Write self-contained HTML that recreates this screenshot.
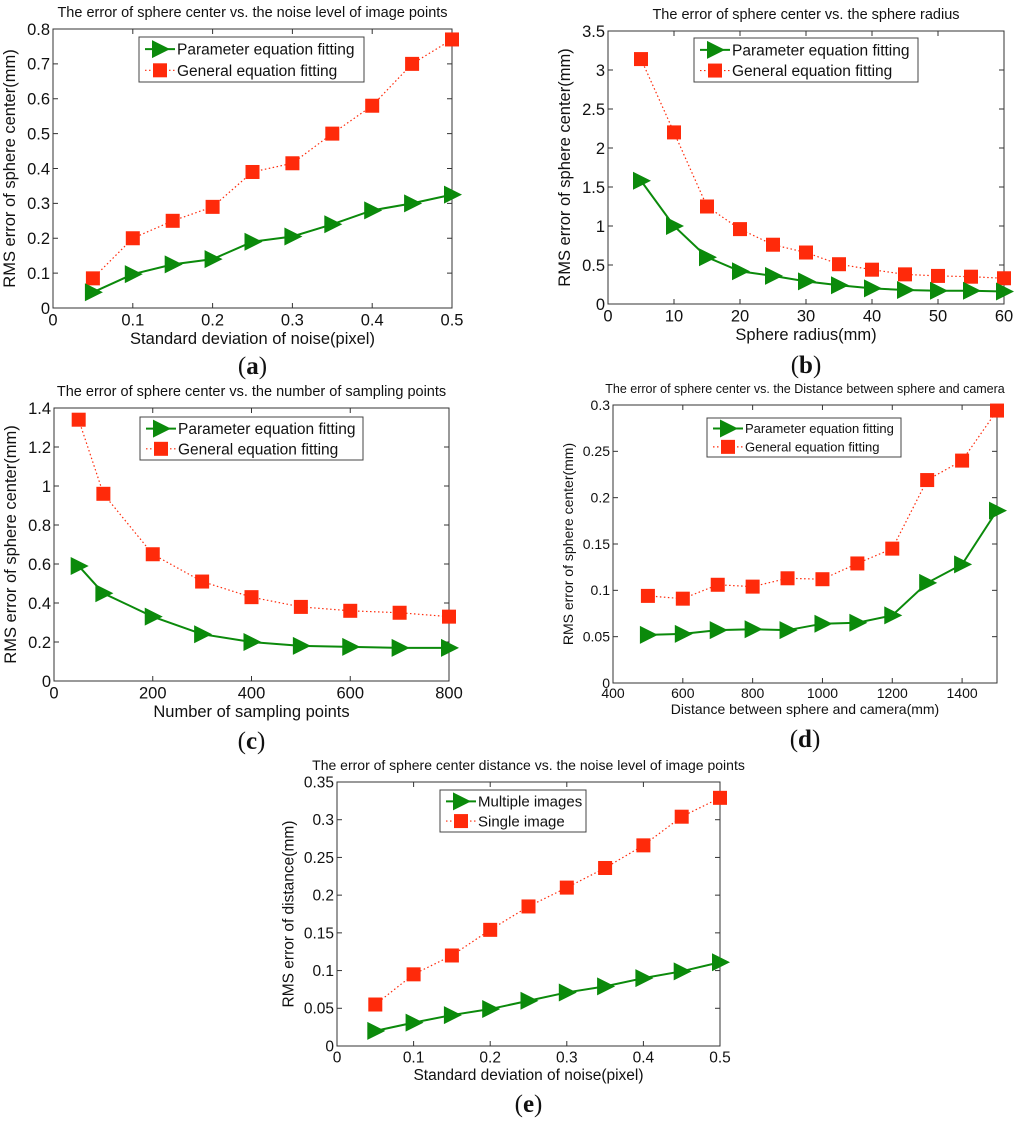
<!DOCTYPE html>
<html><head><meta charset="utf-8"><style>
html,body{margin:0;padding:0;background:#fff;width:1024px;height:1121px;overflow:hidden}
svg{display:block;font-family:"Liberation Sans",sans-serif}
</style></head><body>
<svg id="fig" width="1024" height="1121" viewBox="0 0 1024 1121" xmlns="http://www.w3.org/2000/svg"></svg>
<script>
// ---- data ----
const aX=[0.05,0.1,0.15,0.2,0.25,0.3,0.35,0.4,0.45,0.5];
const aParam=[0.045,0.097,0.125,0.14,0.19,0.205,0.24,0.28,0.30,0.325];
const aGeneral=[0.085,0.20,0.25,0.29,0.39,0.415,0.50,0.58,0.70,0.77];
const aXTicks=[0,0.1,0.2,0.3,0.4,0.5];
const aYTicks=[0,0.1,0.2,0.3,0.4,0.5,0.6,0.7,0.8];

const bX=[5,10,15,20,25,30,35,40,45,50,55,60];
const bParam=[1.58,1.0,0.6,0.42,0.36,0.29,0.24,0.2,0.18,0.17,0.17,0.16];
const bGeneral=[3.14,2.2,1.25,0.96,0.76,0.66,0.51,0.44,0.38,0.36,0.35,0.33];
const bXTicks=[0,10,20,30,40,50,60];
const bYTicks=[0,0.5,1,1.5,2,2.5,3,3.5];

const cX=[50,100,200,300,400,500,600,700,800];
const cParam=[0.59,0.45,0.33,0.24,0.2,0.18,0.175,0.17,0.17];
const cGeneral=[1.34,0.96,0.65,0.51,0.43,0.38,0.36,0.35,0.33];
const cXTicks=[0,200,400,600,800];
const cYTicks=[0,0.2,0.4,0.6,0.8,1,1.2,1.4];

const dX=[500,600,700,800,900,1000,1100,1200,1300,1400,1500];
const dParam=[0.052,0.053,0.057,0.058,0.057,0.064,0.065,0.073,0.108,0.128,0.186];
const dGeneral=[0.094,0.091,0.106,0.104,0.113,0.112,0.129,0.145,0.219,0.240,0.294];
const dXTicks=[400,600,800,1000,1200,1400];
const dYTicks=[0,0.05,0.1,0.15,0.2,0.25,0.3];

const eX=[0.05,0.1,0.15,0.2,0.25,0.3,0.35,0.4,0.45,0.5];
const eMultiple=[0.02,0.031,0.041,0.049,0.06,0.071,0.079,0.09,0.099,0.111];
const eSingle=[0.055,0.095,0.12,0.154,0.185,0.21,0.236,0.266,0.304,0.329];
const eXTicks=[0,0.1,0.2,0.3,0.4,0.5];
const eYTicks=[0,0.05,0.1,0.15,0.2,0.25,0.3,0.35];

const NS="http://www.w3.org/2000/svg";
const svg=document.getElementById('fig');
function mk(tag,attrs,parent){const e=document.createElementNS(NS,tag);for(const k in attrs)e.setAttribute(k,attrs[k]);(parent||svg).appendChild(e);return e;}
function txt(s,attrs,parent){const t=mk('text',attrs,parent);t.textContent=s;return t;}
const GREEN="#0b8a0b", RED="#ff2a0a";

function panel(id,L,R,T,B,xmin,xmax,ymax,xTicks,yTicks,xs,g,r,title,xlabel,ylabel,letter,letterY,leg,names,fs,tfs){
  const grp=mk('g',{});
  
  
  const sx=v=>L+(v-xmin)/(xmax-xmin)*(R-L);
  const sy=v=>B-v/ymax*(B-T);
  const t=txt(title,{x:(L+R)/2,y:T-12,'text-anchor':'middle','font-size':tfs,fill:'#111'},grp);
  
  
  mk('rect',{x:L,y:T,width:R-L,height:B-T,fill:'#fff',stroke:'#333','stroke-width':1},grp);
  xTicks.forEach(v=>{const x=sx(v);
    mk('line',{x1:x,y1:B,x2:x,y2:B-5,stroke:'#333'},grp);mk('line',{x1:x,y1:T,x2:x,y2:T+5,stroke:'#333'},grp);
    const l=txt(String(v),{x:x,y:B+fs+1,'text-anchor':'middle','font-size':fs,fill:'#111'},grp);
    
    });
  yTicks.forEach(v=>{const y=sy(v);
    mk('line',{x1:L,y1:y,x2:L+5,y2:y,stroke:'#333'},grp);mk('line',{x1:R,y1:y,x2:R-5,y2:y,stroke:'#333'},grp);
    const l=txt(String(v),{x:L-3,y:y+fs*0.35,'text-anchor':'end','font-size':fs,fill:'#111'},grp);
    
    });
  const xl=txt(xlabel,{x:(L+R)/2,y:B+2*fs+3,'text-anchor':'middle','font-size':fs,fill:'#111'},grp);
  
  
  const yx=L-fs*2.3-(id==='d'||id==='e'?8:0);
  const yl=txt(ylabel,{x:yx,y:(T+B)/2,'text-anchor':'middle','font-size':fs,fill:'#111',transform:`rotate(-90 ${yx} ${(T+B)/2})`},grp);
  
  
  const rp=xs.map((v,i)=>sx(v)+','+sy(r[i])).join(' ');
  const rl=mk('polyline',{points:rp,fill:'none',stroke:RED,'stroke-width':1.2,'stroke-dasharray':'1.5,2.5'},grp);
  
  
  xs.forEach((v,i)=>{const m=mk('rect',{x:sx(v)-7,y:sy(r[i])-7,width:14,height:14,fill:RED},grp);
    
    });
  const gp=xs.map((v,i)=>sx(v)+','+sy(g[i])).join(' ');
  const gl=mk('polyline',{points:gp,fill:'none',stroke:GREEN,'stroke-width':2},grp);
  
  
  xs.forEach((v,i)=>{const x=sx(v),y=sy(g[i]);
    const m=mk('polygon',{points:`${x-8},${y-9} ${x+10},${y} ${x-8},${y+9}`,fill:GREEN},grp);
    
    });
  const [lx1,ly1,lx2,ly2,lfs]=leg;
  const lg=mk('g',{},grp);
  
  
  mk('rect',{x:lx1,y:ly1,width:lx2-lx1,height:ly2-ly1,fill:'#fff',stroke:'#444','stroke-width':1},lg);
  const r1=ly1+(ly2-ly1)*0.27, r2=ly1+(ly2-ly1)*0.74;
  mk('line',{x1:lx1+6,y1:r1,x2:lx1+36,y2:r1,stroke:GREEN,'stroke-width':2},lg);
  mk('polygon',{points:`${lx1+13},${r1-9} ${lx1+31},${r1} ${lx1+13},${r1+9}`,fill:GREEN},lg);
  mk('line',{x1:lx1+6,y1:r2,x2:lx1+36,y2:r2,stroke:RED,'stroke-width':1.2,'stroke-dasharray':'1.5,2.5'},lg);
  mk('rect',{x:lx1+14,y:r2-7,width:14,height:14,fill:RED},lg);
  const e1=txt(names[0],{x:lx1+38,y:r1+lfs*0.36,'font-size':lfs,fill:'#111'},lg);
  
  
  const e2=txt(names[1],{x:lx1+38,y:r2+lfs*0.36,'font-size':lfs,fill:'#111'},lg);
  
  
  const lt=mk('text',{x:(L+R)/2,y:letterY,'text-anchor':'middle','font-size':25,'font-family':'Liberation Serif, serif',fill:'#111'},grp);
  
  
  const s1=mk('tspan',{},lt);s1.textContent='(';
  const s2=mk('tspan',{'font-weight':'bold'},lt);s2.textContent=letter;
  const s3=mk('tspan',{},lt);s3.textContent=')';
}
const PN=['Parameter equation fitting','General equation fitting'];
panel('a',53,452,29,308,0,0.5,0.8,aXTicks,aYTicks,aX,aParam,aGeneral,
 'The error of sphere center vs. the noise level of image points','Standard deviation of noise(pixel)','RMS error of sphere center(mm)','a',374,[139,37,364,82,15.5],PN,16.5,14.5);
panel('b',608,1004,31,304,0,60,3.5,bXTicks,bYTicks,bX,bParam,bGeneral,
 'The error of sphere center vs. the sphere radius','Sphere radius(mm)','RMS error of sphere center(mm)','b',373,[694,38,918,82,15.5],PN,16.5,14.5);
panel('c',54,449,408,681,0,800,1.4,cXTicks,cYTicks,cX,cParam,cGeneral,
 'The error of sphere center vs. the number of sampling points','Number of sampling points','RMS error of sphere center(mm)','c',749,[140,417,363,460,15.5],PN,16.5,14.5);
panel('d',613,997,405,683,400,1500,0.3,dXTicks,dYTicks,dX,dParam,dGeneral,
 'The error of sphere center vs. the Distance between sphere and camera','Distance between sphere and camera(mm)','RMS error of sphere center(mm)','d',747,[707,418,901,457,13],PN,14,12.5);
panel('e',337,720,782,1046,0,0.5,0.35,eXTicks,eYTicks,eX,eMultiple,eSingle,
 'The error of sphere center distance vs. the noise level of image points','Standard deviation of noise(pixel)','RMS error of distance(mm)','e',1112,[440,790,586,832,15],['Multiple images','Single image'],15.5,14);
</script>
</body></html>
